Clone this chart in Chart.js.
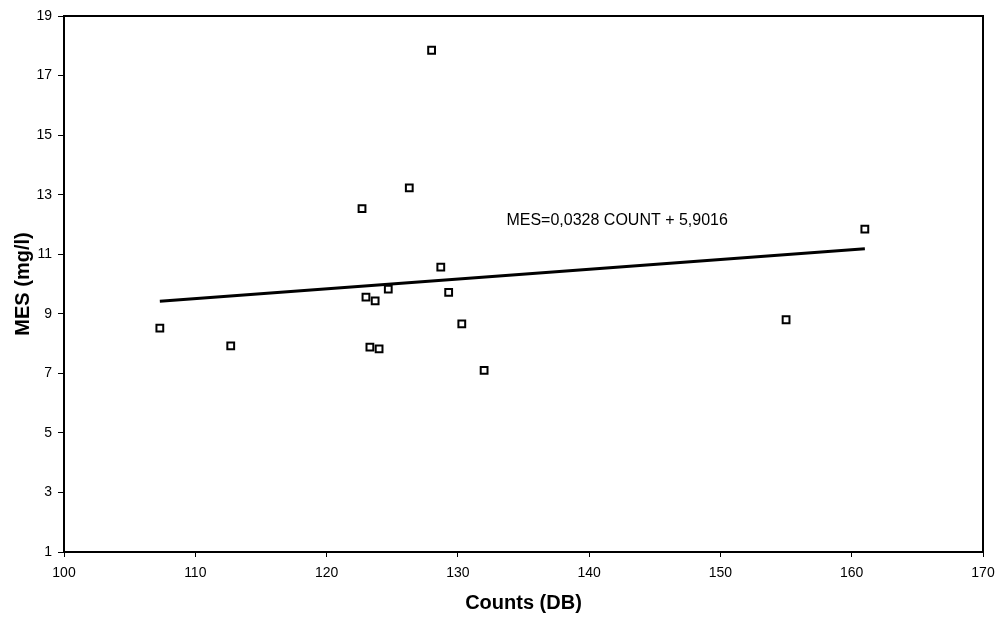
<!DOCTYPE html>
<html>
<head>
<meta charset="utf-8">
<script src="https://cdn.jsdelivr.net/npm/chart.js@4/dist/chart.umd.min.js"></script>
<style>
  html, body { margin: 0; padding: 0; background: #ffffff; }
  #wrap { width: 997px; height: 617px; position: relative; }
</style>
</head>
<body>
<div id="wrap"><canvas id="c" width="997" height="617"></canvas></div>
<script>
// Observed values
const countsDB = [107.3, 112.7, 122.7, 128.0, 126.3, 123.0, 123.7, 124.7, 123.3, 124.0, 128.7, 129.3, 130.3, 132.0, 155.0, 161.0];
const mesValues = [8.52, 7.92, 12.53, 17.85, 13.23, 9.56, 9.43, 9.83, 7.88, 7.82, 10.57, 9.72, 8.66, 7.10, 8.80, 11.84];

// Regression shown on chart
const trendSlope = 0.0328;
const trendIntercept = 5.9016;
const equationText = "MES=0,0328 COUNT + 5,9016";
const equationAnchor = [133.7, 12.12]; // data coords (x, y) of label left/middle

// Axis ticks
const xTicks = [100, 110, 120, 130, 140, 150, 160, 170];
const yTicks = [1, 3, 5, 7, 9, 11, 13, 15, 17, 19];

const xTitle = "Counts (DB)";
const yTitle = "MES (mg/l)";

const FONT = "'Liberation Sans', Arial, Helvetica, sans-serif";

const points = countsDB.map((x, i) => ({ x: x, y: mesValues[i] }));
const xMin = Math.min(...countsDB), xMax = Math.max(...countsDB);
const trendPoints = [xMin, xMax].map(x => ({ x: x, y: trendSlope * x + trendIntercept }));

const framePlugin = {
  id: 'frame',
  afterDatasetsDraw(chart) {
    const { ctx, chartArea: a, scales } = chart;
    ctx.save();
    ctx.strokeStyle = '#000';
    ctx.lineWidth = 2;
    ctx.beginPath();
    ctx.moveTo(a.left, a.top);
    ctx.lineTo(a.right, a.top);
    ctx.lineTo(a.right, a.bottom);
    ctx.stroke();
    // equation label
    ctx.fillStyle = '#000';
    ctx.font = "16px " + FONT;
    ctx.textAlign = 'left';
    ctx.textBaseline = 'middle';
    ctx.fillText(equationText, scales.x.getPixelForValue(equationAnchor[0]), scales.y.getPixelForValue(equationAnchor[1]));
    ctx.restore();
  }
};

new Chart(document.getElementById('c'), {
  type: 'scatter',
  data: {
    datasets: [
      {
        label: 'MES',
        data: points,
        pointStyle: 'rect',
        pointRadius: 4.8,
        pointHoverRadius: 4.8,
        borderColor: '#000',
        backgroundColor: '#fff',
        pointBorderWidth: 2,
        showLine: false,
        order: 1
      },
      {
        label: 'Trend',
        type: 'line',
        data: trendPoints,
        borderColor: '#000',
        borderWidth: 3,
        pointRadius: 0,
        fill: false,
        order: 2
      }
    ]
  },
  plugins: [framePlugin],
  options: {
    responsive: false,
    animation: false,
    events: [],
    layout: { padding: { top: 16, right: 14, left: 0, bottom: 0 } },
    plugins: { legend: { display: false }, tooltip: { enabled: false } },
    scales: {
      x: {
        type: 'linear',
        min: 100, max: 170,
        afterBuildTicks(scale) { scale.ticks = xTicks.map(v => ({ value: v })); },
        afterFit(scale) { scale.height = 65; scale.paddingLeft = 0; scale.paddingRight = 0; },
        grid: { drawOnChartArea: false, drawTicks: true, tickLength: 5, color: '#000', lineWidth: 1 },
        border: { display: true, color: '#000', width: 2 },
        ticks: { color: '#000', font: { family: FONT, size: 14 }, padding: 8, maxRotation: 0 },
        title: { display: true, text: xTitle, color: '#000', font: { family: FONT, size: 20, weight: 'bold' }, padding: { top: 0, bottom: 2 } }
      },
      y: {
        type: 'linear',
        min: 1, max: 19,
        afterBuildTicks(scale) { scale.ticks = yTicks.map(v => ({ value: v })); },
        afterFit(scale) { scale.width = 64; scale.paddingTop = 0; scale.paddingBottom = 0; },
        grid: { drawOnChartArea: false, drawTicks: true, tickLength: 6, color: '#000', lineWidth: 1 },
        border: { display: true, color: '#000', width: 2 },
        ticks: { color: '#000', font: { family: FONT, size: 14 }, padding: 6 },
        title: { display: true, text: yTitle, color: '#000', font: { family: FONT, size: 20, weight: 'bold' }, padding: { top: 11, bottom: 0 } }
      }
    }
  }
});
</script>
</body>
</html>
